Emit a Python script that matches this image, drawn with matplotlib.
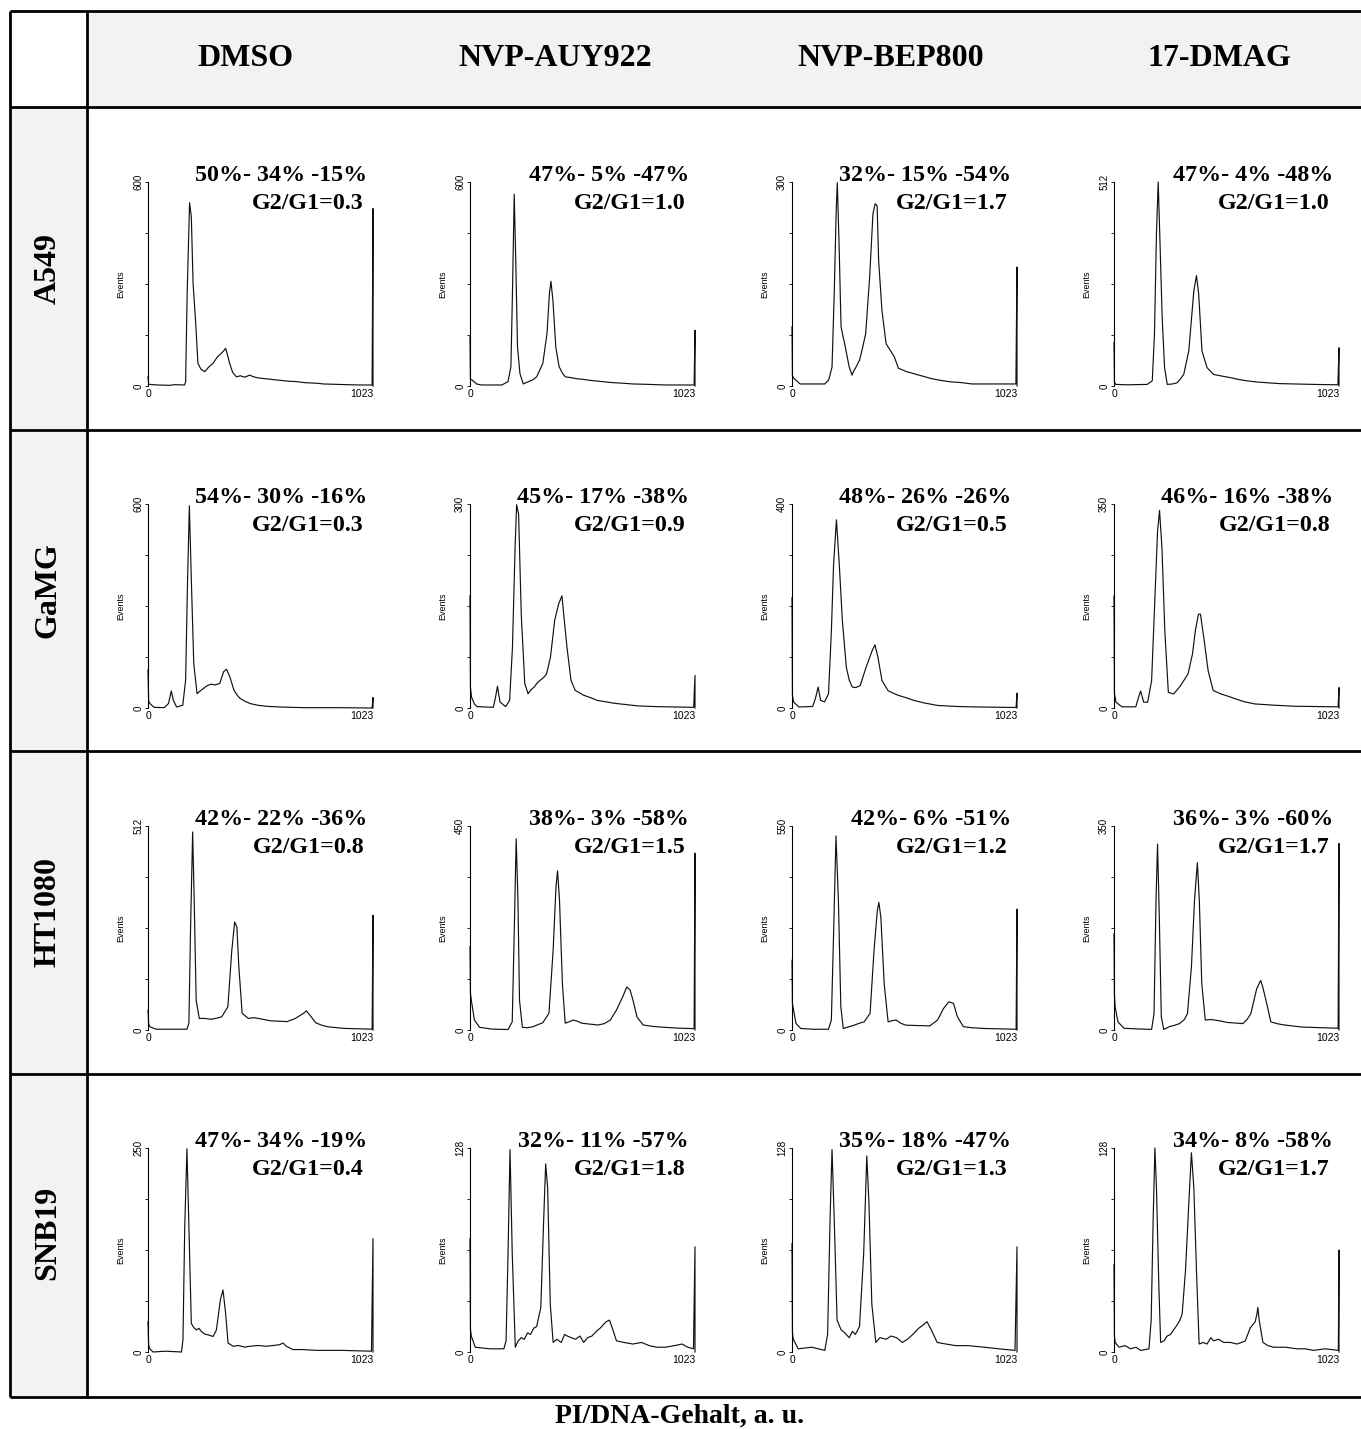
import matplotlib
matplotlib.use('Agg')
import matplotlib.pyplot as plt
from matplotlib.lines import Line2D
from matplotlib.patches import Rectangle

W, H = 1361, 1429
SERIF = ['Liberation Serif', 'DejaVu Serif']
SANS = ['Liberation Sans', 'DejaVu Sans']

cell_lines = ['A549', 'GaMG', 'HT1080', 'SNB19']
treatments = ['DMSO', 'NVP-AUY922', 'NVP-BEP800', '17-DMAG']

# top value of each Events axis (rows = cell lines, columns = treatments)
y_max = [[600, 600, 300, 512],
         [600, 300, 400, 350],
         [512, 450, 550, 350],
         [250, 128, 128, 128]]

# G1 - S - G2/M fractions and the G2/G1 ratio printed over each histogram
phase_text = [['50%- 34% -15%', '47%- 5% -47%', '32%- 15% -54%', '47%- 4% -48%'],
              ['54%- 30% -16%', '45%- 17% -38%', '48%- 26% -26%', '46%- 16% -38%'],
              ['42%- 22% -36%', '38%- 3% -58%', '42%- 6% -51%', '36%- 3% -60%'],
              ['47%- 34% -19%', '32%- 11% -57%', '35%- 18% -47%', '34%- 8% -58%']]
ratio_text = [['G2/G1=0.3', 'G2/G1=1.0', 'G2/G1=1.7', 'G2/G1=1.0'],
              ['G2/G1=0.3', 'G2/G1=0.9', 'G2/G1=0.5', 'G2/G1=0.8'],
              ['G2/G1=0.8', 'G2/G1=1.5', 'G2/G1=1.2', 'G2/G1=1.7'],
              ['G2/G1=0.4', 'G2/G1=1.8', 'G2/G1=1.3', 'G2/G1=1.7']]

# PI histograms: (channel, events) vertices, channel 0..1023
A549_DMSO = [(0, 27), (3, 5), (40, 3), (100, 2), (120, 4), (166, 3), (171, 12), (178, 270), (189, 539),
             (197, 497), (205, 301), (217, 184), (227, 67), (240, 50), (258, 42), (275, 55), (296, 67),
             (315, 85), (333, 96), (345, 104), (353, 111), (362, 90), (371, 67), (385, 40), (402, 27),
             (420, 30), (440, 26), (462, 32), (480, 27), (500, 24), (525, 22), (553, 20), (580, 18),
             (610, 16), (640, 14), (675, 13), (710, 10), (740, 9), (770, 8), (796, 6), (850, 5),
             (900, 4), (960, 3), (1019, 3), (1023, 522), (1023, 0)]
A549_AUY = [(0, 145), (2, 20), (9, 18), (30, 6), (52, 3), (145, 3), (173, 13), (186, 57), (193, 271),
            (201, 564), (208, 369), (216, 115), (227, 37), (242, 6), (266, 13), (285, 18), (303, 27),
            (331, 66), (350, 154), (361, 271), (368, 308), (377, 252), (390, 115), (405, 57), (420, 38),
            (433, 27), (455, 25), (480, 22), (520, 19), (554, 16), (600, 13), (647, 10), (700, 8),
            (740, 6), (800, 5), (889, 3), (1019, 3), (1023, 164), (1023, 0)]
A549_BEP = [(0, 87), (2, 15), (9, 11), (37, 3), (149, 3), (167, 9), (182, 28), (192, 136), (201, 258),
            (206, 299), (214, 209), (223, 87), (242, 58), (260, 28), (273, 16), (280, 22), (288, 26),
            (307, 38), (320, 55), (335, 77), (353, 160), (368, 253), (378, 268), (387, 265), (394, 184),
            (409, 111), (428, 62), (446, 53), (465, 43), (484, 26), (500, 24), (521, 21), (545, 19),
            (577, 16), (600, 14), (632, 11), (680, 8), (725, 6), (770, 5), (818, 3), (900, 3),
            (1018, 3), (1023, 175), (1023, 0)]
A549_DMAG = [(0, 109), (2, 10), (8, 4), (60, 3), (151, 4), (174, 13), (184, 130), (193, 382), (201, 512),
             (208, 382), (219, 172), (230, 46), (242, 4), (265, 5), (287, 8), (305, 20), (317, 29),
             (340, 88), (363, 239), (375, 277), (385, 231), (400, 88), (423, 46), (453, 29), (490, 25),
             (529, 21), (570, 16), (604, 13), (650, 10), (700, 8), (755, 6), (830, 5), (907, 4),
             (1018, 3), (1023, 96), (1023, 0)]

GAMG_DMSO = [(0, 112), (3, 20), (9, 13), (28, 2), (74, 1), (93, 13), (106, 50), (115, 23), (130, 3),
             (158, 8), (171, 82), (180, 378), (188, 595), (197, 378), (208, 131), (223, 42), (237, 50),
             (251, 57), (270, 66), (288, 70), (305, 68), (326, 72), (344, 107), (357, 114), (372, 92),
             (391, 52), (405, 38), (419, 28), (440, 20), (465, 13), (500, 8), (539, 5), (600, 3),
             (707, 1), (850, 1), (1019, 0), (1023, 31), (1023, 0)]
GAMG_AUY = [(0, 165), (2, 30), (7, 16), (20, 6), (32, 2), (106, 1), (115, 14), (125, 32), (136, 9),
            (162, 2), (180, 11), (193, 89), (205, 236), (212, 299), (221, 285), (233, 138), (249, 36),
            (264, 21), (278, 27), (292, 31), (306, 37), (320, 41), (335, 45), (348, 50), (366, 75),
            (385, 129), (403, 153), (418, 165), (426, 138), (441, 89), (459, 41), (478, 26),
            (500, 22), (515, 19), (550, 15), (580, 11), (620, 9), (655, 7), (710, 5), (766, 3),
            (850, 2), (1017, 1), (1023, 48), (1023, 0)]
GAMG_BEP = [(0, 216), (2, 25), (7, 12), (31, 2), (94, 3), (106, 18), (119, 41), (130, 15), (148, 12),
            (166, 28), (179, 151), (189, 281), (202, 369), (215, 281), (229, 171), (247, 80), (260, 55),
            (274, 41), (290, 40), (310, 44), (337, 80), (364, 112), (377, 124), (391, 99), (409, 54),
            (437, 34), (460, 29), (482, 25), (520, 20), (554, 15), (600, 10), (662, 5), (750, 3),
            (842, 2), (1019, 1), (1023, 29), (1023, 0)]
GAMG_DMAG = [(0, 192), (2, 25), (9, 10), (36, 2), (99, 2), (112, 19), (121, 29), (135, 10), (153, 10),
             (171, 47), (186, 189), (198, 303), (207, 339), (218, 275), (231, 133), (247, 27),
             (271, 24), (298, 36), (319, 48), (337, 59), (357, 93), (370, 133), (384, 161), (393, 161),
             (410, 116), (428, 64), (451, 30), (487, 24), (520, 20), (550, 16), (590, 11), (640, 7),
             (720, 5), (821, 3), (1019, 2), (1023, 35), (1023, 0)]

HT1080_DMSO = [(0, 50), (3, 15), (9, 8), (37, 2), (177, 2), (186, 17), (193, 242), (203, 497), (210, 326),
               (219, 75), (233, 29), (260, 29), (285, 27), (307, 29), (335, 33), (363, 58), (381, 200),
               (394, 271), (404, 259), (413, 159), (428, 42), (456, 29), (480, 31), (502, 29),
               (530, 26), (558, 23), (600, 22), (632, 21), (670, 29), (707, 42), (720, 48), (735, 38),
               (763, 18), (790, 12), (818, 8), (893, 4), (960, 3), (1019, 2), (1023, 288), (1023, 0)]
HT1080_AUY = [(0, 184), (2, 80), (6, 66), (20, 22), (43, 6), (100, 2), (173, 1), (192, 18), (201, 213),
              (210, 422), (218, 286), (225, 66), (238, 6), (260, 5), (285, 7), (310, 12), (331, 16),
              (359, 37), (378, 176), (391, 316), (398, 351), (407, 286), (420, 103), (433, 15),
              (450, 18), (470, 22), (490, 19), (508, 15), (545, 13), (582, 11), (610, 14), (638, 22),
              (666, 44), (694, 73), (713, 95), (728, 88), (741, 66), (759, 29), (787, 11), (830, 8),
              (880, 6), (950, 4), (1019, 3), (1023, 390), (1023, 0)]
HT1080_BEP = [(0, 188), (2, 70), (7, 54), (18, 18), (40, 4), (100, 2), (166, 2), (179, 27), (189, 259),
              (200, 523), (211, 349), (222, 63), (233, 4), (260, 9), (283, 13), (305, 18), (328, 22),
              (355, 45), (373, 215), (388, 322), (395, 344), (404, 304), (419, 125), (437, 22),
              (455, 25), (473, 27), (495, 18), (518, 13), (570, 12), (626, 11), (662, 27), (689, 58),
              (713, 76), (734, 72), (752, 36), (779, 9), (820, 6), (879, 4), (950, 3), (1019, 2),
              (1023, 326), (1023, 0)]
HT1080_DMAG = [(0, 165), (2, 60), (5, 40), (18, 14), (45, 3), (100, 2), (171, 1), (182, 28), (191, 222),
               (198, 319), (206, 193), (215, 23), (226, 1), (253, 6), (275, 8), (298, 11), (320, 18),
               (334, 28), (352, 108), (366, 222), (379, 287), (388, 222), (399, 80), (415, 17),
               (437, 18), (460, 17), (490, 15), (514, 13), (550, 12), (586, 11), (605, 18), (622, 28),
               (649, 71), (667, 85), (676, 74), (691, 51), (713, 14), (740, 11), (767, 9), (810, 7),
               (857, 5), (940, 4), (1019, 3), (1023, 320), (1023, 0)]

SNB19_DMSO = [(0, 37), (3, 8), (8, 4), (23, 0), (80, 1), (152, 0), (159, 15), (167, 153), (177, 249),
              (186, 153), (197, 35), (208, 30), (220, 27), (232, 29), (243, 25), (258, 22), (273, 21),
              (285, 20), (296, 19), (311, 27), (329, 64), (341, 76), (353, 47), (364, 11), (387, 7),
              (410, 8), (440, 6), (462, 7), (500, 8), (538, 7), (570, 8), (599, 9), (614, 11),
              (629, 7), (659, 3), (700, 3), (766, 2), (880, 2), (1016, 1), (1023, 139), (1023, 0)]
SNB19_AUY = [(0, 71), (2, 14), (6, 10), (24, 3), (90, 2), (154, 2), (164, 7), (173, 62), (182, 127),
             (192, 62), (206, 3), (219, 7), (233, 9), (247, 8), (262, 12), (275, 11), (290, 15),
             (303, 16), (322, 28), (335, 83), (344, 118), (353, 103), (365, 30), (378, 6), (395, 8),
             (415, 6), (430, 11), (443, 10), (460, 9), (480, 8), (500, 10), (517, 6), (535, 9),
             (554, 10), (575, 13), (592, 15), (619, 19), (634, 20), (647, 15), (666, 7), (700, 6),
             (740, 5), (780, 6), (815, 4), (850, 3), (889, 3), (930, 4), (964, 5), (990, 3),
             (1016, 2), (1023, 66), (1023, 0)]
SNB19_BEP = [(0, 68), (2, 12), (6, 8), (28, 2), (90, 3), (149, 1), (162, 11), (173, 83), (182, 127),
             (192, 83), (205, 20), (223, 14), (240, 12), (260, 9), (275, 13), (288, 11), (307, 16),
             (326, 62), (340, 123), (350, 93), (363, 30), (381, 6), (400, 9), (428, 8), (450, 10),
             (475, 9), (502, 6), (525, 8), (549, 11), (577, 15), (597, 17), (614, 19), (633, 14),
             (660, 6), (700, 5), (744, 4), (800, 4), (874, 3), (940, 2), (1014, 1), (1023, 66),
             (1023, 0)]
SNB19_DMAG = [(0, 55), (2, 10), (5, 6), (23, 3), (50, 4), (76, 2), (100, 3), (121, 1), (159, 2), (169, 20),
              (178, 83), (186, 128), (193, 103), (204, 41), (212, 6), (227, 7), (242, 10), (257, 11),
              (272, 14), (287, 17), (300, 20), (310, 24), (325, 51), (340, 93), (352, 125), (363, 103),
              (375, 51), (387, 5), (405, 6), (423, 5), (440, 9), (453, 7), (475, 8), (499, 6),
              (530, 6), (559, 5), (580, 6), (597, 7), (619, 15), (642, 19), (650, 24), (654, 28),
              (660, 20), (665, 16), (677, 6), (700, 4), (725, 3), (780, 3), (831, 2), (870, 2),
              (907, 1), (960, 2), (1020, 1), (1023, 64), (1023, 0)]

histograms = [[A549_DMSO, A549_AUY, A549_BEP, A549_DMAG],
              [GAMG_DMSO, GAMG_AUY, GAMG_BEP, GAMG_DMAG],
              [HT1080_DMSO, HT1080_AUY, HT1080_BEP, HT1080_DMAG],
              [SNB19_DMSO, SNB19_AUY, SNB19_BEP, SNB19_DMAG]]

fig = plt.figure(figsize=(W / 100, H / 100), dpi=100)
fig.patch.set_facecolor('white')


def fx(px):
    return px / W


def fy(py):
    return 1 - py / H


# table frame in pixel coordinates
left, divider, right = 10, 87, W
top, head_bottom, bottom = 11, 107, 1397
row_lines = [430, 751, 1074]

fig.add_artist(Rectangle((fx(divider), fy(head_bottom)), fx(right - divider), (head_bottom - top) / H,
                         transform=fig.transFigure, facecolor='#f2f2f2', edgecolor='none', zorder=0))
fig.add_artist(Rectangle((fx(left), fy(bottom)), fx(divider - left), (bottom - head_bottom) / H,
                         transform=fig.transFigure, facecolor='#f2f2f2', edgecolor='none', zorder=0))

line_kw = dict(color='black', lw=2.0, transform=fig.transFigure, solid_capstyle='butt')
for yy in [top, head_bottom] + row_lines + [bottom]:
    fig.add_artist(Line2D([fx(left), fx(right)], [fy(yy), fy(yy)], **line_kw))
for xx in [left, divider]:
    fig.add_artist(Line2D([fx(xx), fx(xx)], [fy(top), fy(bottom)], **line_kw))

head_x = [246, 555, 891, 1219]
for name, xx in zip(treatments, head_x):
    fig.text(fx(xx), fy(59), name, ha='center', va='center', fontsize=23,
             fontweight='bold', family=SERIF)

row_y = [268, 590, 912, 1233]
for name, yy in zip(cell_lines, row_y):
    fig.text(fx(48), fy(yy), name, ha='center', va='center', rotation=90,
             fontsize=23, fontweight='bold', family=SERIF)

fig.text(fx(680), fy(1416), 'PI/DNA-Gehalt, a. u.', ha='center', va='center',
         fontsize=20, fontweight='bold', family=SERIF)

# histogram panels
col_x = [148, 470, 792, 1114]
row_top = [182, 504, 826, 1148]
ax_w, ax_h = 225, 204

for r in range(4):
    for c in range(4):
        x0, y0 = col_x[c], row_top[r]
        ax = fig.add_axes([fx(x0), fy(y0 + ax_h), ax_w / W, ax_h / H])
        ax.patch.set_alpha(0)
        pts = histograms[r][c]
        ch = [p[0] for p in pts]
        ev = [p[1] for p in pts]
        ax.plot(ch, ev, color='#111111', lw=0.85, clip_on=False)
        ymax = y_max[r][c]
        ax.set_xlim(0, 1023)
        ax.set_ylim(0, ymax)
        for s in ['top', 'right', 'bottom']:
            ax.spines[s].set_visible(False)
        ax.spines['left'].set_linewidth(0.8)
        ax.set_yticks([0, ymax / 4, ymax / 2, 3 * ymax / 4, ymax])
        ax.set_yticklabels(['0', '', '', '', str(ymax)], rotation=90, va='center',
                           fontsize=7, family=SANS)
        ax.tick_params(axis='y', length=2.5, width=0.6, pad=1)
        ax.set_xticks([0, 1023])
        ax.set_xticklabels(['0', '1023'], fontsize=7.5, family=SANS)
        ax.get_xticklabels()[1].set_horizontalalignment('right')
        ax.tick_params(axis='x', length=0, pad=2)
        ax.set_ylabel('Events', fontsize=6.5, family=SANS, labelpad=6)

        fig.text(fx(x0 + ax_w - 6), fy(y0 - 1), phase_text[r][c], ha='right', va='baseline',
                 fontsize=17.3, fontweight='bold', family=SERIF)
        fig.text(fx(x0 + ax_w - 9), fy(y0 + 27), ratio_text[r][c], ha='right', va='baseline',
                 fontsize=17.3, fontweight='bold', family=SERIF)

fig.savefig('out.png', dpi=100)
